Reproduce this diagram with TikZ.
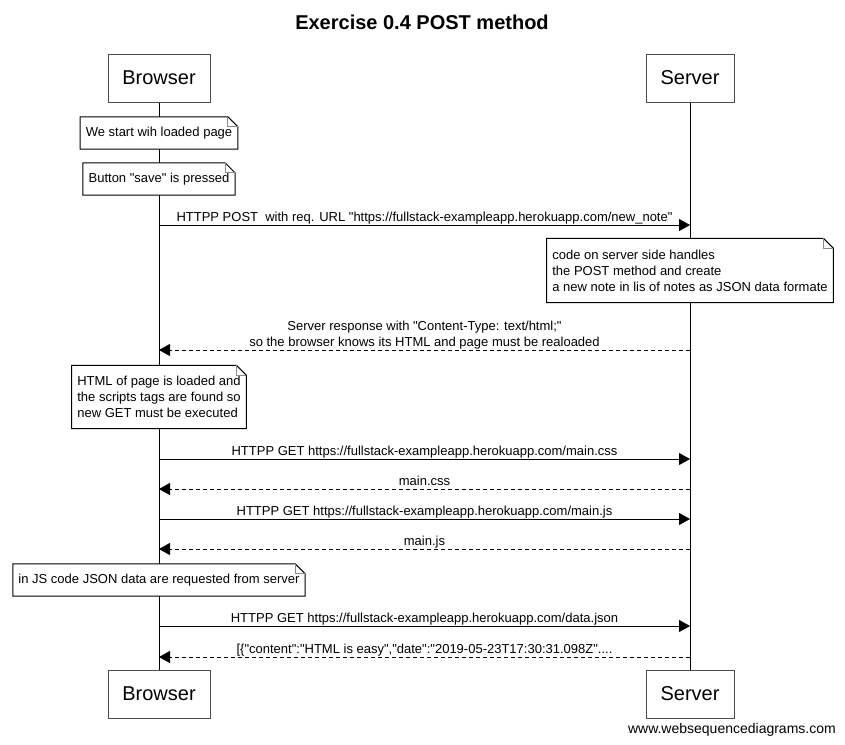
\documentclass[tikz,border=0pt]{standalone}
\usepackage{fontspec}
\setmainfont{Liberation Sans}[Ligatures=TeXOff]
\usetikzlibrary{arrows.meta}
\tikzset{
  x=1pt, y=-1pt,
  txt/.style={font=\fontsize{13}{16}\selectfont},
  part/.style={draw=black!70, line width=1pt, fill=white, minimum width=#1,
    minimum height=48pt, inner sep=0pt, font=\fontsize{20}{24}\selectfont},
  lifeline/.style={draw=black, line width=1pt},
  notebox/.style={txt, fill=white, inner xsep=5.5pt, inner ysep=0pt,
    minimum height=#1, align=left},
  noteline/.style={draw=black, line width=1pt},
  notefold/.style={draw=black!45, line width=1pt},
  msg/.style={draw=black, line width=0.9pt, -{Triangle[length=11pt,width=12pt]}},
  ret/.style={msg, dash pattern=on 4pt off 3pt},
  lab/.style={txt, anchor=base, yshift=3.5pt, inner sep=0pt},
  labtop/.style={lab, yshift=16pt},
}
\newcommand\drawnote[1]{%
  \draw[noteline] (#1.north west) -- ([xshift=-10pt]#1.north east)
    -- ([yshift=-10pt]#1.north east) -- (#1.south east) -- (#1.south west) -- cycle;
  \draw[notefold] ([xshift=-10pt]#1.north east) -- ([xshift=-10pt,yshift=-10pt]#1.north east)
    -- ([yshift=-10pt]#1.north east);}
\begin{document}
\begin{tikzpicture}
\useasboundingbox (0,0) rectangle (845,744);
\fill[white] (0,0) rectangle (845,744);

\node[font=\fontsize{20}{24}\selectfont\bfseries] (title) at (422,22) {Exercise 0.4 POST method};

% participants
\node[part=102pt] (bt) at (159,78) {Browser};
\node[part=88pt]  (st) at (690,78) {Server};
\node[part=102pt] (bb) at (159,694) {Browser};
\node[part=88pt]  (sb) at (690,694) {Server};

% lifelines
\draw[lifeline] (bt.south) -- (bb.north);
\draw[lifeline] (st.south) -- (sb.north);

% notes
\node[notebox=32pt] (n1) at (159,133) {We start wih loaded page};
\drawnote{n1}
\node[notebox=32pt] (n2) at (159,179) {Button "save" is pressed};
\drawnote{n2}
\node[notebox=64pt] (n3) at (690,270.5) {code on server side handles\\the POST method and create\\a new note in lis of notes as JSON data formate};
\drawnote{n3}
\node[notebox=63pt] (n4) at (159,397) {HTML of page is loaded and\\the scripts tags are found so\\new GET must be executed};
\drawnote{n4}
\node[notebox=32pt] (n5) at (159,580) {in JS code JSON data are requested from server};
\drawnote{n5}

% message anchor points
\coordinate (b1) at (159,225); \coordinate (s1) at (690,225);
\coordinate (b2) at (159,350); \coordinate (s2) at (690,350);
\coordinate (b3) at (159,459); \coordinate (s3) at (690,459);
\coordinate (b4) at (159,489); \coordinate (s4) at (690,489);
\coordinate (b5) at (159,519); \coordinate (s5) at (690,519);
\coordinate (b6) at (159,549); \coordinate (s6) at (690,549);
\coordinate (b7) at (159,626); \coordinate (s7) at (690,626);
\coordinate (b8) at (159,657); \coordinate (s8) at (690,657);

\draw[msg] (b1) -- node[lab] {HTTPP POST\ \ with req. URL "https://fullstack-exampleapp.herokuapp.com/new\_note"} (s1);
\draw[ret] (s2) -- node[labtop] {Server response with "Content-Type: text/html;"}
  node[lab] {so the browser knows its HTML and page must be realoaded} (b2);
\draw[msg] (b3) -- node[lab] {HTTPP GET https://fullstack-exampleapp.herokuapp.com/main.css} (s3);
\draw[ret] (s4) -- node[lab] {main.css} (b4);
\draw[msg] (b5) -- node[lab] {HTTPP GET https://fullstack-exampleapp.herokuapp.com/main.js} (s5);
\draw[ret] (s6) -- node[lab] {main.js} (b6);
\draw[msg] (b7) -- node[lab] {HTTPP GET https://fullstack-exampleapp.herokuapp.com/data.json} (s7);
\draw[ret] (s8) -- node[lab] {[\{"content":"HTML is easy","date":"2019-05-23T17:30:31.098Z"....} (b8);

\node[font=\fontsize{14}{16}\selectfont, anchor=east, inner sep=0pt] (wsd) at (836,730) {www.websequencediagrams.com};
\end{tikzpicture}
\end{document}
